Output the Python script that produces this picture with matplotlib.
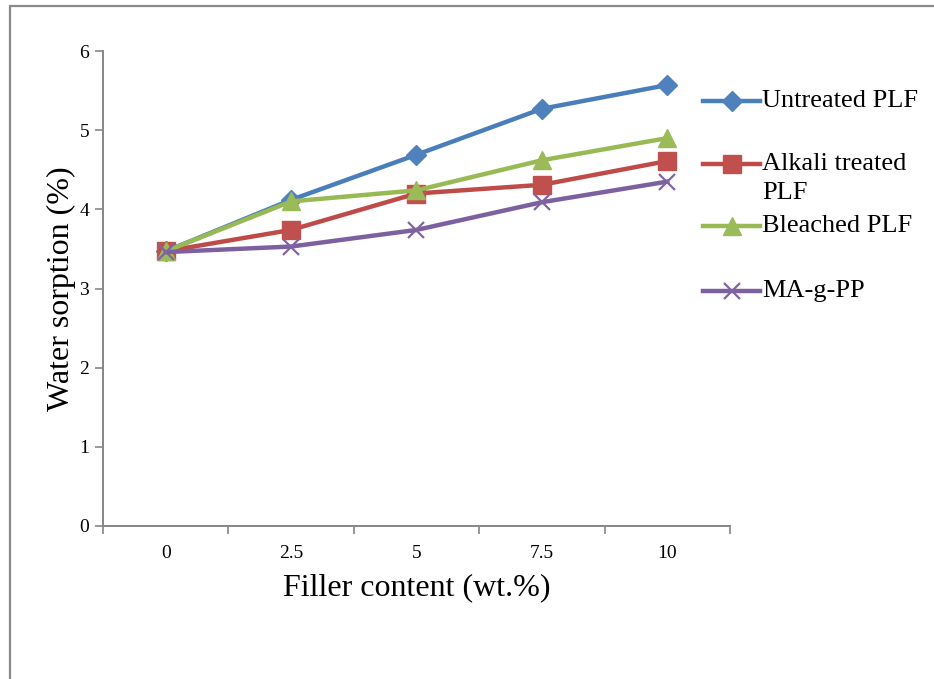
import matplotlib
matplotlib.use("Agg")
import matplotlib.pyplot as plt
from matplotlib.lines import Line2D
from matplotlib.patches import Rectangle

plt.rcParams['font.family'] = ['Liberation Serif', 'DejaVu Serif']

categories = ["0", "2.5", "5", "7.5", "10"]
untreated = [3.47, 4.12, 4.69, 5.27, 5.57]
alkali = [3.47, 3.74, 4.20, 4.31, 4.61]
bleached = [3.47, 4.10, 4.24, 4.62, 4.90]
magpp = [3.46, 3.53, 3.74, 4.09, 4.35]
series_names = ["Untreated PLF", "Alkali treated\nPLF", "Bleached PLF", "MA-g-PP"]
y_ticks = [0, 1, 2, 3, 4, 5, 6]

styles = [
    dict(color="#4A7EBB", marker="D", ms=10, mfc="#4F81BD", mec="#4F81BD"),
    dict(color="#BE4B48", marker="s", ms=13, mfc="#C0504D", mec="#C0504D"),
    dict(color="#98B954", marker="^", ms=13, mfc="#9BBB59", mec="#9BBB59"),
    dict(color="#7D60A0", marker="x", ms=12, mfc="#8064A2", mec="#8064A2", mew=1.6),
]

W, H = 934, 679
fig = plt.figure(figsize=(W / 100, H / 100), dpi=100)
fig.patches.append(Rectangle((10 / W, -0.01), 1.0, 1 - 6 / H + 0.01, transform=fig.transFigure,
                             fill=False, edgecolor="#8a8a8a", linewidth=1.6))

ax = fig.add_axes([103 / W, (H - 526) / H, (730 - 103) / W, (526 - 51) / H])
x = list(range(len(categories)))
for data, st in zip([untreated, alkali, bleached, magpp], styles):
    ax.plot(x, data, linewidth=3.2, clip_on=False, **st)

ax.set_xlim(-0.5, len(categories) - 0.5)
ax.set_ylim(0, 6)
ax.set_yticks(y_ticks)
ax.set_yticklabels([str(v) for v in y_ticks], fontsize=14)
ax.set_xticks(x)
ax.set_xticklabels(categories, fontsize=14)
ax.set_xticks([i - 0.5 for i in range(len(categories) + 1)], minor=True)
ax.tick_params(axis='x', which='major', length=0, pad=14)
ax.tick_params(axis='x', which='minor', length=6, width=1.2, color="#868686", direction='out')
ax.tick_params(axis='y', length=6, width=1.2, color="#868686", direction='out', pad=4)
for s in ["top", "right"]:
    ax.spines[s].set_visible(False)
for s in ["left", "bottom"]:
    ax.spines[s].set_color("#868686")
    ax.spines[s].set_linewidth(1.4)

ax.set_xlabel("Filler content (wt.%)", fontsize=23, labelpad=8)
ax.set_ylabel("Water sorption (%)", fontsize=23, labelpad=2)

# manual legend
leg_y = [101, 164, 226, 291]
for name, st, yy in zip(series_names, styles, leg_y):
    yf = 1 - yy / H
    fig.lines.append(Line2D([703 / W, 760 / W], [yf, yf], transform=fig.transFigure,
                            linewidth=3.2, color=st["color"]))
    fig.lines.append(Line2D([731.5 / W], [yf], transform=fig.transFigure, linestyle="none",
                            marker=st["marker"], markersize=st["ms"], markerfacecolor=st["mfc"],
                            markeredgecolor=st["mec"], markeredgewidth=st.get("mew", 1.0)))
    for k, part in enumerate(name.split("\n")):
        fig.text(762 / W, 1 - (yy + 29 * k) / H, part, fontsize=19, va="center", ha="left",
                 transform=fig.transFigure)

fig.savefig("out.png", dpi=100)
